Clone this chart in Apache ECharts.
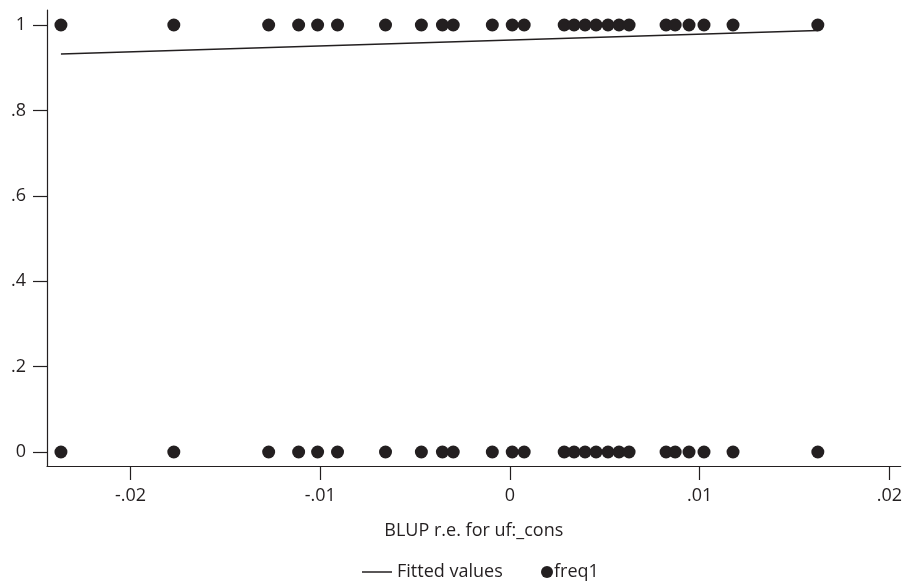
<!DOCTYPE html>
<html>
<head>
<meta charset="utf-8">
<script src="https://cdn.jsdelivr.net/npm/echarts@6/dist/echarts.min.js"></script>
<style>
html,body{margin:0;padding:0;background:#fff;}
#chart{width:905px;height:584px;}
</style>
</head>
<body>
<div id="chart"></div>
<script>
// BLUP random-effect values (x)
const blupValues = [-0.02367, -0.01772, -0.01272, -0.01114, -0.01014, -0.00909, -0.00656, -0.00467,
  -0.00356, -0.00299, -0.00093, 0.00012, 0.00075, 0.00286, 0.00338, 0.00396, 0.00454, 0.00517,
  0.00575, 0.00628, 0.00823, 0.00871, 0.00944, 0.01023, 0.01176, 0.01623];
// each group shows an observation at both outcome levels
const outcomes = [1, 0];
// fitted line end points
const fitX = [-0.02367, 0.01623];
const fitY = [0.932, 0.987];
// ticks
const xTickValues = [-0.02, -0.01, 0, 0.01, 0.02];
const xTickLabels = ['-.02', '-.01', '0', '.01', '.02'];
const yTickValues = [0, 0.2, 0.4, 0.6, 0.8, 1];
const yTickLabels = ['0', '.2', '.4', '.6', '.8', '1'];

const ink = '#231f20';
const font = 'Open Sans';
const fs = 18;

const scatterData = [];
outcomes.forEach(o => blupValues.forEach(v => scatterData.push([v, o])));
const fitData = fitX.map((x, i) => [x, fitY[i]]);

const chart = echarts.init(document.getElementById('chart'));
chart.setOption({
  animation: false,
  backgroundColor: '#fff',
  textStyle: {fontFamily: font, color: ink},
  grid: {left: 47, right: 3, top: 10, bottom: 118, containLabel: false},
  xAxis: {
    type: 'value',
    min: -0.024405, max: 0.020595,
    name: 'BLUP r.e. for uf:_cons',
    nameLocation: 'middle',
    nameGap: 56,
    nameTextStyle: {fontFamily: font, fontSize: fs, color: ink},
    axisLine: {show: true, onZero: false, lineStyle: {color: ink, width: 1.2}},
    axisTick: {show: true, length: 14, customValues: xTickValues, lineStyle: {color: ink, width: 1.2}},
    axisLabel: {
      show: true, margin: 21, fontFamily: font, fontSize: fs, color: ink,
      customValues: xTickValues,
      formatter: v => { const i = xTickValues.findIndex(t => Math.abs(t - v) < 1e-9); return i >= 0 ? xTickLabels[i] : ''; }
    },
    splitLine: {show: false}
  },
  yAxis: {
    type: 'value',
    min: -0.0328, max: 1.0351,
    axisLine: {show: true, onZero: false, lineStyle: {color: ink, width: 1.2}},
    axisTick: {show: true, length: 14, customValues: yTickValues, lineStyle: {color: ink, width: 1.2}},
    axisLabel: {
      show: true, margin: 21, fontFamily: font, fontSize: fs, color: ink,
      customValues: yTickValues,
      formatter: v => { const i = yTickValues.findIndex(t => Math.abs(t - v) < 1e-9); return i >= 0 ? yTickLabels[i] : ''; }
    },
    splitLine: {show: false}
  },
  legend: [
    {
      data: [{name: 'Fitted values', icon: 'rect'}],
      left: 357, top: 558,
      itemWidth: 30, itemHeight: 1.5,
      textStyle: {fontFamily: font, fontSize: fs, color: ink},
      selectedMode: false
    },
    {
      data: [{name: 'freq1', icon: 'circle'}],
      left: 536, top: 558,
      itemWidth: 12, itemHeight: 12,
      textStyle: {fontFamily: font, fontSize: fs, color: ink, padding: [0, 0, 0, -4]},
      selectedMode: false
    }
  ],
  series: [
    {
      name: 'Fitted values',
      type: 'line',
      data: fitData,
      showSymbol: false,
      symbol: 'none',
      lineStyle: {color: ink, width: 1.6},
      itemStyle: {color: ink},
      z: 3
    },
    {
      name: 'freq1',
      type: 'scatter',
      data: scatterData,
      symbol: 'circle',
      symbolSize: 13,
      itemStyle: {color: ink, opacity: 1},
      z: 2
    }
  ]
});
</script>
</body>
</html>
